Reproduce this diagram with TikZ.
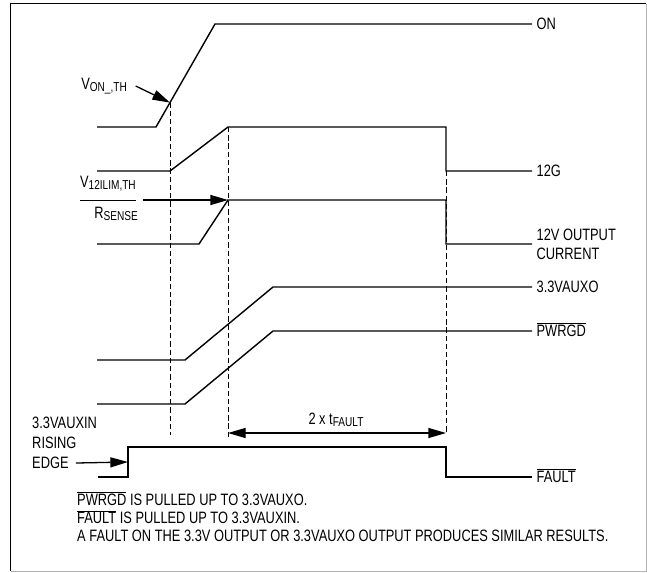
\documentclass[tikz,border=0pt]{standalone}
\usepackage{fontspec}
\setmainfont[FakeStretch=0.78]{Liberation Sans}
\usetikzlibrary{arrows.meta}
\newcommand\diagfont{\fontsize{14pt}{16.2pt}\selectfont}
\newcommand\lowsub[1]{\raisebox{-2pt}{\fontsize{11pt}{12pt}\selectfont #1}}
\newcommand\barsig[1]{$\overline{\mbox{#1}}$}
\tikzset{
  signal/.style={line width=1.2pt},
  marker/.style={line width=0.8pt, dash pattern=on 4.5pt off 2.5pt},
  pointer/.style={line width=1.1pt, -{Triangle[length=15pt,width=8.5pt]}},
  span/.style={line width=1.1pt, {Triangle[length=15pt,width=8.5pt]}-{Triangle[length=15pt,width=8.5pt]}},
  barred/.style={yshift=1.5pt},
}
\begin{document}
\begin{tikzpicture}[x=0.85pt, y=-0.85pt, font=\diagfont]
    \useasboundingbox (0,0) rectangle (647,572);
    \draw[line width=1.6pt] (10.5,571) -- (10.5,3.5) -- (646,3.5);
    \draw[gray!60, line width=0.8pt] (646,3.5) -- (646,571) -- (10.5,571);

    \coordinate (onth) at (170,102.6);
    \coordinate (ilimth) at (228,200);
    \coordinate (fltedge) at (128,462);
    \coordinate (tstart) at (228,433);
    \coordinate (tend) at (446,433);

    \draw[marker] (onth) -- (170,435);
    \draw[marker] (228,127) -- (228,438);
    \draw[marker] (446,171) -- (tend);

    \draw[signal] (97,127) -- (156,127) -- (215,24) -- (532,24) node[right] (lon) {ON};
    \draw[signal] (97,171) -- (170,171) -- (228,127) -- (446,127) -- (446,171) -- (532,171) node[right] (l12g) {12G};
    \draw[signal] (97,244) -- (199,244) -- (ilimth) -- (446,200) -- (446,244) -- (532,244) node[right, align=left] (lcur) {12V OUTPUT\\CURRENT};
    \draw[signal] (97,360) -- (185,360) -- (273,287) -- (532,287) node[right] (laux) {3.3VAUXO};
    \draw[signal] (97,404) -- (185,404) -- (273,331) -- (532,331) node[right, barred] (lpg) {\barsig{PWRGD}};
    \draw[signal] (98,477) -- (128,477) -- (128,447) -- (446,447) -- (446,477) -- (532,477) node[right, barred] (lflt) {\barsig{FAULT}};

    \node (von) at (131,86) [left] {V\lowsub{ON\_,TH}};
    \draw[pointer] ([xshift=4pt]von.east) -- (onth);

    \node (vnum) at (136,187.5) [anchor=base east, inner sep=0] {V\lowsub{12ILIM,TH}};
    \node (rsen) at (138,218) [anchor=base east, inner sep=0] {R\lowsub{SENSE}};
    \draw[line width=0.8pt] (vnum.west |- ilimth) -- (vnum.east |- ilimth);
    \draw[pointer] ([xshift=6pt]vnum.east |- ilimth) -- (ilimth);

    \node (lvin) at (32,433) [right, inner sep=0, align=left, font={\fontsize{14pt}{17pt}\selectfont}] {3.3VAUXIN\\RISING};
    \node (ledge) at (32,463) [right, inner sep=0] {EDGE};
    \draw[pointer] ([xshift=6pt]ledge.east) -- (fltedge);

    \draw[span] (tstart) -- (tend);
    \node (ltf) at (336,424) [anchor=base, inner sep=0] {2 x t\lowsub{FAULT}};

    \node (notes) at (77,517) [right, inner sep=0, align=left, font={\fontsize{14pt}{15.3pt}\selectfont}] {\barsig{PWRGD} IS PULLED UP TO 3.3VAUXO.\\\barsig{FAULT} IS PULLED UP TO 3.3VAUXIN.\\A FAULT ON THE 3.3V OUTPUT OR 3.3VAUXO OUTPUT PRODUCES SIMILAR RESULTS.};
\end{tikzpicture}
\end{document}
